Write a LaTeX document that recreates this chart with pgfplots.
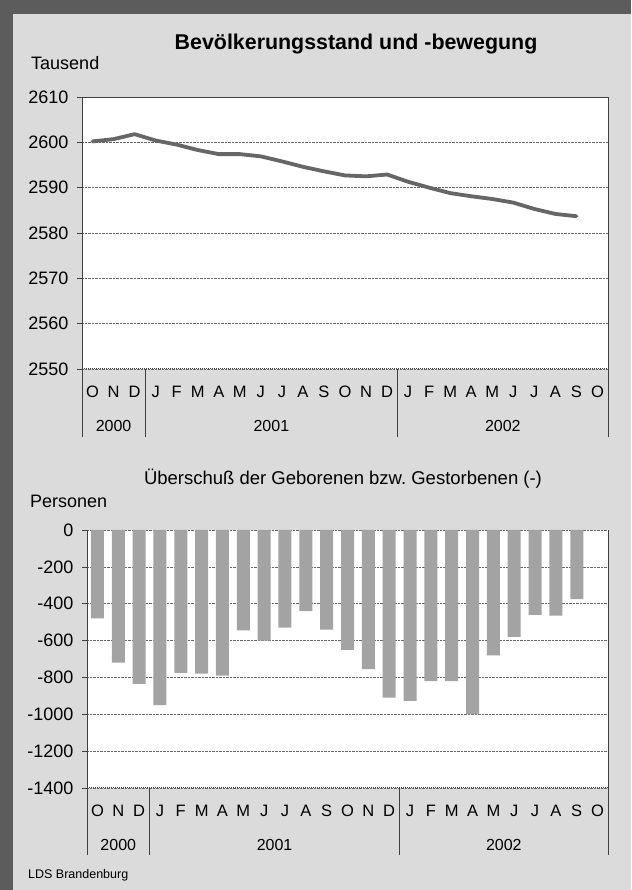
\documentclass[border=0pt]{standalone}
\usepackage{fontspec}
\setmainfont{Liberation Sans}
\usepackage{pgfplots}
\pgfplotsset{compat=1.18}
\frenchspacing
\definecolor{bg}{gray}{0.86}
\definecolor{framec}{gray}{0.36}
\definecolor{linegray}{gray}{0.40}
\definecolor{bargray}{gray}{0.64}
\definecolor{gridgray}{gray}{0.40}
\definecolor{axc}{gray}{0.25}
\pgfplotsset{
  common/.style={
    scale only axis, clip=false,
    xmin=-0.5, xmax=24.5,
    axis background/.style={fill=white},
    axis line style={draw=none},
    ymajorgrids, grid style={gridgray, densely dotted, line width=0.45pt},
    xtick={0,...,24},
    xticklabels={O,N,D,J,F,M,A,M,J,J,A,S,O,N,D,J,F,M,A,M,J,J,A,S,O},
    xtick style={draw=none},
    x tick label style={font=\fontsize{16.5}{16}\selectfont, anchor=base, yshift=-24pt},
    ytick pos=left, tick align=outside, major tick length=5pt,
    ytick style={axc, line width=0.5pt},
    y tick label style={font=\fontsize{18}{18}\selectfont, xshift=-5pt},
  }
}
\begin{document}
\begin{tikzpicture}
\useasboundingbox (0pt,0pt) rectangle (631pt,890pt);
\fill[bg] (0pt,0pt) rectangle (631pt,890pt);
\fill[framec] (0pt,0pt) rectangle (13pt,890pt);
\fill[framec] (0pt,876pt) rectangle (631pt,890pt);

\node[anchor=base, font=\fontsize{21.4}{22}\selectfont\bfseries] at (356pt,840pt) {Bevölkerungsstand und -bewegung};
\node[anchor=base west, font=\fontsize{18}{18}\selectfont, inner sep=0pt] at (31pt,820pt) {Tausend};

\begin{axis}[common,
  at={(82pt,521pt)}, anchor=south west, width=526pt, height=272pt,
  ymin=2550, ymax=2610,
  ytick={2550,2560,2570,2580,2590,2600,2610},
  yticklabels={2550,2560,2570,2580,2590,2600,2610},
]
\addplot[linegray, line width=3.8pt, line join=round, line cap=round] coordinates {
(0,2600.2) (1,2600.7) (2,2601.8) (3,2600.4) (4,2599.5) (5,2598.3)
(6,2597.4) (7,2597.4) (8,2596.9) (9,2595.8) (10,2594.6) (11,2593.6)
(12,2592.7) (13,2592.5) (14,2592.9) (15,2591.3) (16,2590.0) (17,2588.8)
(18,2588.1) (19,2587.5) (20,2586.7) (21,2585.3) (22,2584.2) (23,2583.7)
};
\draw[axc, line width=0.6pt] (rel axis cs:0,0) -- (rel axis cs:0,1) -- (rel axis cs:1,1) -- (rel axis cs:1,0);
\draw[axc, densely dotted, line width=1pt] (rel axis cs:0,0) -- (rel axis cs:1,0);
\draw[axc, line width=0.6pt] (axis cs:-0.5,2550) -- ++(0pt,-68pt);
\draw[axc, line width=0.6pt] (axis cs:2.5,2550) -- ++(0pt,-68pt);
\draw[axc, line width=0.6pt] (axis cs:14.5,2550) -- ++(0pt,-68pt);
\draw[axc, line width=0.6pt] (axis cs:24.5,2550) -- ++(0pt,-68pt);
\node[anchor=base, font=\fontsize{16}{16}\selectfont] at (axis cs:1,2550) [yshift=-63pt] {2000};
\node[anchor=base, font=\fontsize{16}{16}\selectfont] at (axis cs:8.5,2550) [yshift=-63pt] {2001};
\node[anchor=base, font=\fontsize{16}{16}\selectfont] at (axis cs:19.5,2550) [yshift=-63pt] {2002};
\end{axis}

\node[anchor=base, font=\fontsize{18.5}{19}\selectfont] at (343pt,405pt) {Überschuß der Geborenen bzw. Gestorbenen (-)};
\node[anchor=base west, font=\fontsize{18}{18}\selectfont, inner sep=0pt] at (30pt,382pt) {Personen};

\begin{axis}[common,
  at={(87pt,102pt)}, anchor=south west, width=521pt, height=258pt,
  ymin=-1400, ymax=0,
  ytick={-1400,-1200,-1000,-800,-600,-400,-200,0},
  yticklabels={-1400,-1200,-1000,-800,-600,-400,-200,0},
]
\addplot[ybar, bar width=13pt, fill=bargray, draw=none] coordinates {
(0,-480) (1,-720) (2,-835) (3,-950) (4,-775) (5,-780) (6,-790) (7,-545)
(8,-600) (9,-530) (10,-440) (11,-540) (12,-650) (13,-755) (14,-910) (15,-927)
(16,-820) (17,-820) (18,-1000) (19,-680) (20,-580) (21,-460) (22,-465) (23,-375)
};
\draw[axc, line width=0.6pt] (rel axis cs:0,0) -- (rel axis cs:0,1);
\draw[axc, line width=0.6pt] (rel axis cs:1,0) -- (rel axis cs:1,1);
\draw[axc, densely dotted, line width=1pt] (rel axis cs:0,0) -- (rel axis cs:1,0);
\draw[axc, line width=0.6pt] (axis cs:-0.5,-1400) -- ++(0pt,-67pt);
\draw[axc, line width=0.6pt] (axis cs:2.5,-1400) -- ++(0pt,-67pt);
\draw[axc, line width=0.6pt] (axis cs:14.5,-1400) -- ++(0pt,-67pt);
\draw[axc, line width=0.6pt] (axis cs:24.5,-1400) -- ++(0pt,-67pt);
\node[anchor=base, font=\fontsize{16}{16}\selectfont] at (axis cs:1,-1400) [yshift=-63pt] {2000};
\node[anchor=base, font=\fontsize{16}{16}\selectfont] at (axis cs:8.5,-1400) [yshift=-63pt] {2001};
\node[anchor=base, font=\fontsize{16}{16}\selectfont] at (axis cs:19.5,-1400) [yshift=-63pt] {2002};
\end{axis}

\node[anchor=base west, font=\fontsize{12.5}{13}\selectfont, inner sep=0pt] at (28pt,11pt) {LDS Brandenburg};
\end{tikzpicture}
\end{document}
